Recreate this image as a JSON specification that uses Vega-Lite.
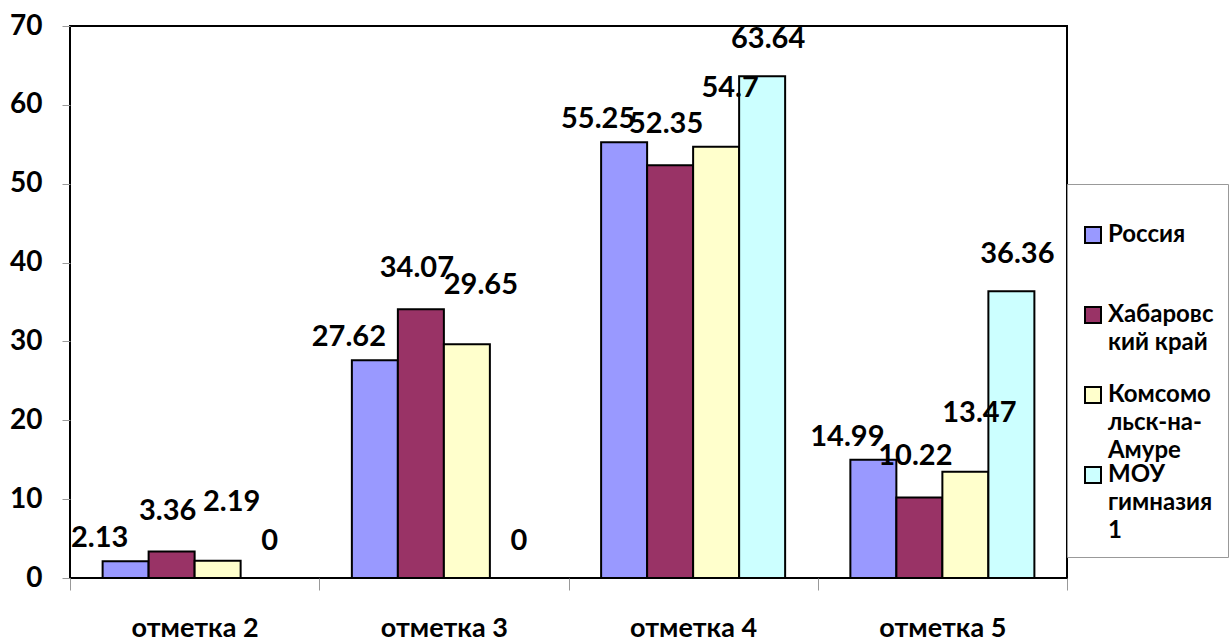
{
  "$schema": "https://vega.github.io/schema/vega-lite/v6.json",
  "width": 997,
  "height": 552,
  "autosize": {"type": "none"},
  "padding": {"left": 70, "top": 26, "right": 163, "bottom": 65},
  "background": "white",
  "config": {
    "view": {"stroke": "black", "strokeWidth": 2},
    "font": "Lato",
    "style": {"guide-label": {"lineHeight": 28}}
  },
  "data": {
    "values": [
      {"mark": "отметка 2", "series": "Россия", "value": 2.13},
      {"mark": "отметка 2", "series": "Хабаровский край", "value": 3.36},
      {"mark": "отметка 2", "series": "Комсомольск-на-Амуре", "value": 2.19},
      {"mark": "отметка 2", "series": "МОУ гимназия 1", "value": 0},
      {"mark": "отметка 3", "series": "Россия", "value": 27.62},
      {"mark": "отметка 3", "series": "Хабаровский край", "value": 34.07},
      {"mark": "отметка 3", "series": "Комсомольск-на-Амуре", "value": 29.65},
      {"mark": "отметка 3", "series": "МОУ гимназия 1", "value": 0},
      {"mark": "отметка 4", "series": "Россия", "value": 55.25},
      {"mark": "отметка 4", "series": "Хабаровский край", "value": 52.35},
      {"mark": "отметка 4", "series": "Комсомольск-на-Амуре", "value": 54.7},
      {"mark": "отметка 4", "series": "МОУ гимназия 1", "value": 63.64},
      {"mark": "отметка 5", "series": "Россия", "value": 14.99},
      {"mark": "отметка 5", "series": "Хабаровский край", "value": 10.22},
      {"mark": "отметка 5", "series": "Комсомольск-на-Амуре", "value": 13.47},
      {"mark": "отметка 5", "series": "МОУ гимназия 1", "value": 36.36}
    ]
  },
  "encoding": {
    "x": {
      "field": "mark",
      "type": "nominal",
      "sort": null,
      "scale": {"paddingInner": 0, "paddingOuter": 0},
      "axis": {
        "title": null,
        "domain": false,
        "tickBand": "extent",
        "tickSize": 12,
        "tickColor": "#999999",
        "labelPadding": 25,
        "labelAngle": 0,
        "labelFontSize": 27,
        "labelFontWeight": "bold",
        "labelColor": "black",
        "labelFont": "Lato"
      }
    },
    "xOffset": {
      "field": "series",
      "type": "nominal",
      "sort": ["Россия", "Хабаровский край", "Комсомольск-на-Амуре", "МОУ гимназия 1"],
      "scale": {"paddingInner": 0, "paddingOuter": 0.709}
    },
    "y": {
      "field": "value",
      "type": "quantitative",
      "scale": {"domain": [0, 70], "nice": false},
      "axis": {
        "title": null,
        "domain": false,
        "grid": false,
        "values": [0, 10, 20, 30, 40, 50, 60, 70],
        "tickSize": 8,
        "tickColor": "#999999",
        "labelPadding": 20,
        "labelFontSize": 28,
        "labelFontWeight": "bold",
        "labelColor": "black",
        "labelFont": "Lato"
      }
    },
    "text": {"field": "value", "type": "quantitative", "format": ".4~g"}
  },
  "layer": [
    {
      "mark": {"type": "bar", "stroke": "black", "strokeWidth": 2},
      "encoding": {
        "text": null,
        "color": {
          "field": "series",
          "type": "nominal",
          "sort": ["Россия", "Хабаровский край", "Комсомольск-на-Амуре", "МОУ гимназия 1"],
          "scale": {
            "domain": ["Россия", "Хабаровский край", "Комсомольск-на-Амуре", "МОУ гимназия 1"],
            "range": ["#9999FF", "#993366", "#FFFFCC", "#CCFFFF"]
          },
          "legend": {
            "title": " ",
            "titleFontSize": 12,
            "titlePadding": 13,
            "orient": "none",
            "legendX": 997,
            "legendY": 158,
            "direction": "vertical",
            "padding": 14,
            "strokeColor": "#999999",
            "fillColor": "white",
            "symbolType": "square",
            "symbolSize": 256,
            "symbolStrokeColor": "black",
            "symbolStrokeWidth": 2,
            "symbolOpacity": 1,
            "labelFont": "Lato",
            "labelFontSize": 24,
            "labelFontWeight": "bold",
            "labelColor": "black",
            "labelLimit": 300,
            "labelOffset": 3,
            "rowPadding": 0,
            "labelExpr": "datum.label == 'Россия' ? ['Россия', '', ''] : datum.label == 'Хабаровский край' ? ['Хабаровс', 'кий край', ''] : datum.label == 'Комсомольск-на-Амуре' ? ['Комсомо', 'льск-на-', 'Амуре'] : datum.label == 'МОУ гимназия 1' ? ['МОУ', 'гимназия', '1'] : datum.label"
          }
        }
      }
    },
    {
      "transform": [{"filter": "datum.series == 'Россия'"}],
      "mark": {"type": "text", "baseline": "bottom", "dx": -26, "dy": -8, "fontSize": 29, "fontWeight": "bold", "font": "Lato", "color": "black"}
    },
    {
      "transform": [{"filter": "datum.series == 'Хабаровский край'"}],
      "mark": {"type": "text", "baseline": "bottom", "dx": -4, "dy": -26, "fontSize": 29, "fontWeight": "bold", "font": "Lato", "color": "black"}
    },
    {
      "transform": [{"filter": "datum.series == 'Комсомольск-на-Амуре'"}],
      "mark": {"type": "text", "baseline": "bottom", "dx": 14, "dy": -44, "fontSize": 29, "fontWeight": "bold", "font": "Lato", "color": "black"}
    },
    {
      "transform": [{"filter": "datum.series == 'МОУ гимназия 1'"}],
      "mark": {"type": "text", "baseline": "bottom", "dx": 6, "dy": -22, "fontSize": 29, "fontWeight": "bold", "font": "Lato", "color": "black"}
    }
  ]
}
